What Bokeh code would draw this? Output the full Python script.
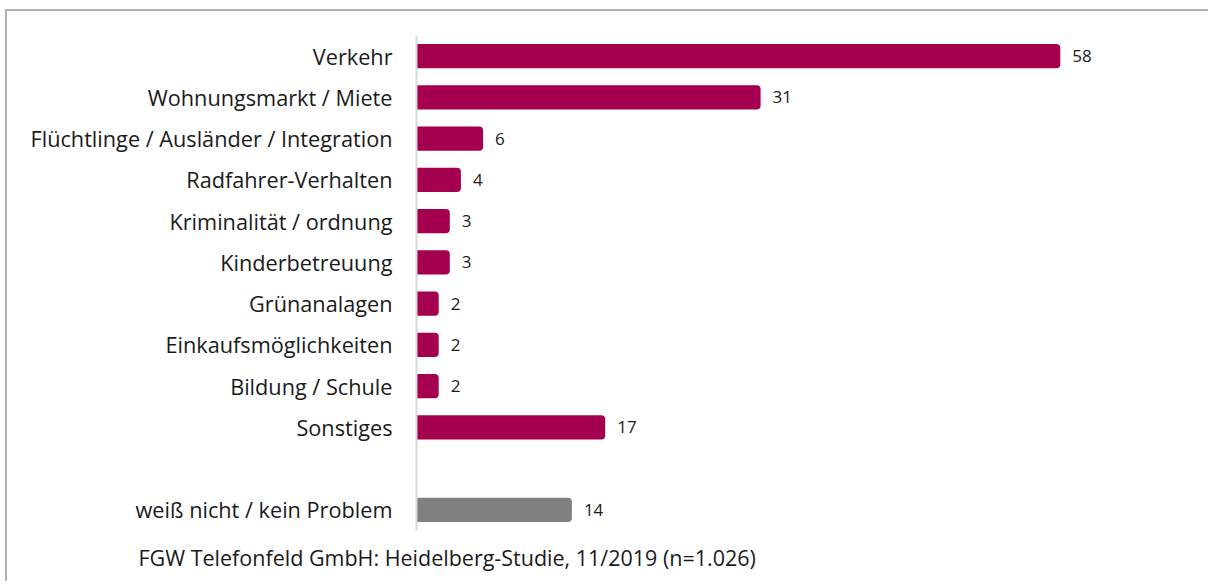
from bokeh.plotting import figure
from bokeh.models import ColumnDataSource, Title, FactorRange
from bokeh.core.properties import value
from bokeh.embed import file_html
from bokeh.resources import INLINE

categories = ["Verkehr", "Wohnungsmarkt / Miete", "Flüchtlinge / Ausländer / Integration",
              "Radfahrer-Verhalten", "Kriminalität / ordnung", "Kinderbetreuung",
              "Grünanalagen", "Einkaufsmöglichkeiten", "Bildung / Schule", "Sonstiges",
              " ", "weiß nicht / kein Problem"]
values = [58, 31, 6, 4, 3, 3, 2, 2, 2, 17, None, 14]
colors = ["#A50050"] * 10 + [None, "#808080"]
footer = "FGW Telefonfeld GmbH: Heidelberg-Studie, 11/2019 (n=1.026)"

FONT = "Open Sans"
TXT = "#1a1a1a"

cats = [c for c, v in zip(categories, values) if v is not None]
vals = [v for v in values if v is not None]
cols = [c for c in colors if c is not None]
src = ColumnDataSource(dict(cat=cats, val=vals, col=cols, lab=[str(v) for v in vals]))

p = figure(width=1203, height=572, output_backend="svg", toolbar_location=None,
           y_range=FactorRange(factors=list(reversed(categories))),
           x_range=(0, 794 / 11.1),
           min_border_left=409, min_border_right=0, min_border_top=24, min_border_bottom=53)
p.styles = {"margin-top": "9px", "margin-left": "5px",
            "border-top": "2px solid #b3b3b3", "border-left": "2px solid #b3b3b3"}
p.outline_line_color = None
p.grid.visible = False
p.xaxis.visible = False
p.y_range.range_padding = 0

p.hbar(y="cat", right="val", left=0, height=0.59, fill_color="col", line_color=None,
       border_radius=(0, 4, 4, 0), source=src)
p.text(x="val", y="cat", text="lab", source=src, x_offset=12, text_baseline="middle",
       text_align="left", text_font=value(FONT), text_font_size="17px", text_color=TXT)

ya = p.yaxis[0]
ya.axis_line_color = "#d9d9d9"
ya.axis_line_width = 2
ya.major_tick_line_color = None
ya.minor_tick_line_color = None
ya.major_label_standoff = 18
ya.major_label_text_font = FONT
ya.major_label_text_font_size = "21.7px"
ya.major_label_text_color = TXT

p.add_layout(Title(text=footer, align="left", offset=-278, standoff=20,
                   vertical_align="bottom",
                   text_font=FONT, text_font_size="21.5px", text_font_style="normal",
                   text_color=TXT), "below")

open("out.html", "w").write(file_html(p, INLINE))
